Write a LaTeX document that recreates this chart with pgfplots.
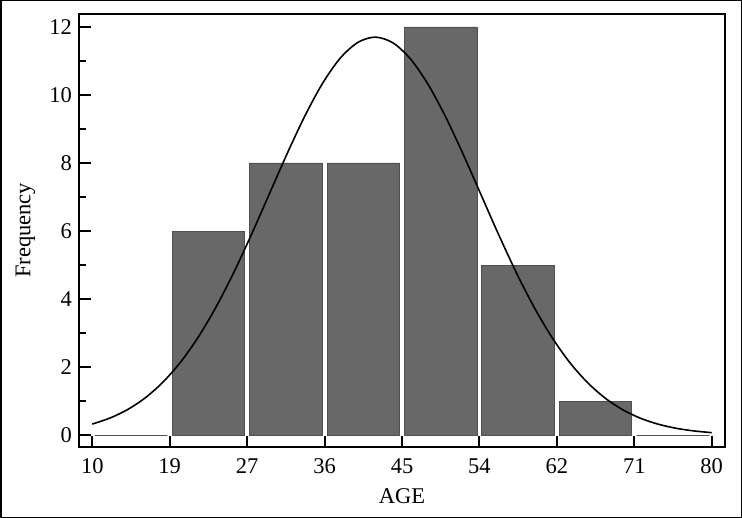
\documentclass[border=0pt]{standalone}
\usepackage{pgfplots}
\pgfplotsset{compat=1.18}
\usepackage{fontspec}
\setmainfont{Liberation Serif}
\definecolor{barfill}{RGB}{104,104,104}
\definecolor{baredge}{RGB}{80,80,80}
\begin{document}
\fontsize{22.5bp}{27bp}\selectfont
\begin{tikzpicture}
\path[use as bounding box] (0,0) rectangle (742bp,518bp);
\draw[line width=1.5bp] (0.75bp,0.75bp) rectangle (741.25bp,517.25bp);
\begin{axis}[
  at={(79bp,71bp)}, anchor=south west,
  scale only axis, width=646bp, height=433bp,
  xmin=8.5, xmax=81.5, ymin=-0.35, ymax=12.38,
  axis line style={line width=2.4bp},
  tick style={line width=2bp, black},
  tick align=inside,
  xtick pos=bottom, ytick pos=left,
  xtick={10,18.75,27.5,36.25,45,53.75,62.5,71.25,80},
  xticklabels={10,19,27,36,45,54,62,71,80},
  ytick={0,2,4,6,8,10,12},
  minor ytick={1,3,5,7,9,11},
  major tick length=11.5bp,
  minor tick length=7bp,
  /pgf/number format/assume math mode=true,
  ticklabel style={font=\fontsize{22.5bp}{27bp}\selectfont},
  xticklabel style={yshift=-3.5bp},
  yticklabel style={xshift=0.5bp},
  label style={font=\fontsize{22.5bp}{27bp}\selectfont},
  xlabel={AGE}, ylabel={Frequency},
  every axis x label/.style={at={(axis description cs:0.5,0)}, yshift=-49bp, anchor=center},
  every axis y label/.style={at={(axis description cs:-0.083,0.5)}, rotate=90, anchor=center},
  clip=false,
]
\addplot[ybar, bar width=8.2, fill=barfill, draw=baredge, line width=0.8bp] coordinates {
  (23.125,6) (31.875,8) (40.625,8) (49.375,12) (58.125,5) (66.875,1)
};
\addplot[ybar, bar width=8.2, fill=white, draw=baredge, line width=1bp] coordinates {
  (14.375,0) (75.625,0)
};
\addplot[smooth, black, line width=1.6bp] coordinates {
  (10,0.324) (12,0.501) (14,0.752) (16,1.098) (18,1.560) (20,2.153)
  (22,2.890) (24,3.772) (26,4.787) (28,5.905) (30,7.085) (32,8.263)
  (34,9.370) (36,10.331) (38,11.076) (40,11.544) (42,11.700) (44,11.528)
  (46,11.045) (48,10.288) (50,9.318) (52,8.205) (54,7.025) (56,5.848)
  (58,4.733) (60,3.725) (62,2.850) (64,2.120) (66,1.534) (68,1.079)
  (70,0.737) (72,0.490) (74,0.317) (76,0.199) (78,0.122) (80,0.072)
};
\end{axis}
\end{tikzpicture}
\end{document}
